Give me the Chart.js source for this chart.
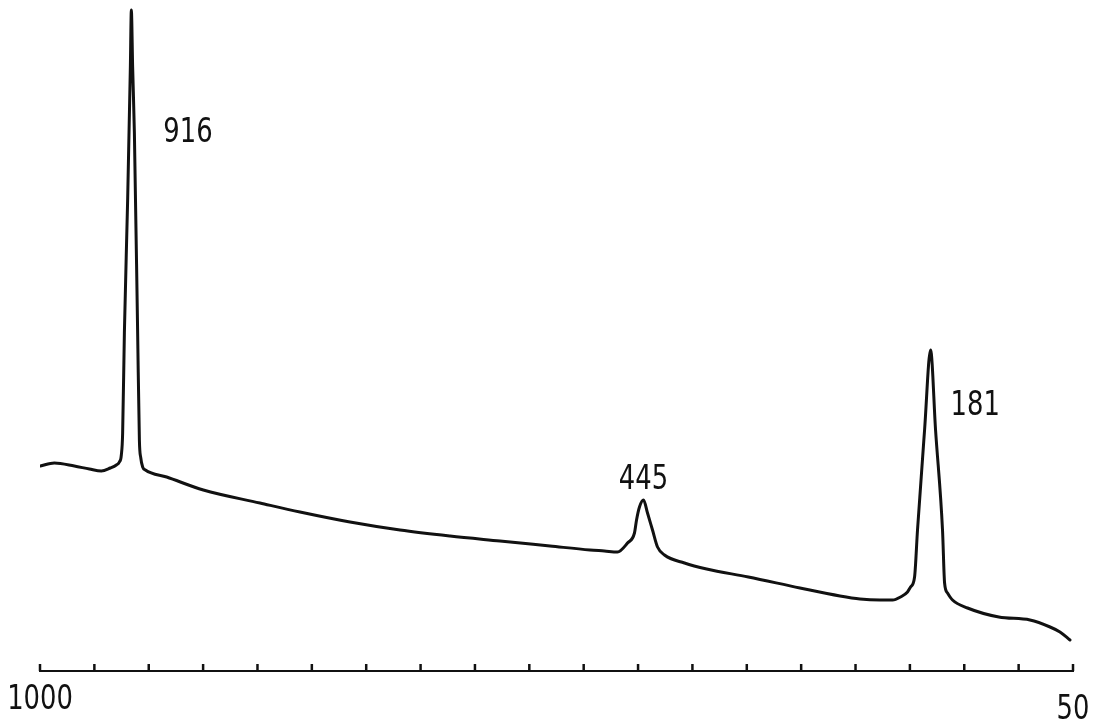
<!DOCTYPE html>
<html>
<head>
<meta charset="utf-8">
<script src="https://cdn.jsdelivr.net/npm/chart.js@4.4.0/dist/chart.umd.min.js"></script>
<style>
  html, body { margin: 0; padding: 0; background: #ffffff; }
  #wrap { width: 1103px; height: 728px; }
</style>
</head>
<body>
<div id="wrap"><canvas id="spectrum" width="1103" height="728"></canvas></div>
<script>
// Raman shift (cm^-1), from high to low as recorded
const wavenumbers = [
  999.7, 986.8, 968.4, 954.6, 943.6, 935.3, 929.8, 927.0, 925.2, 924.0,
  922.4, 919.4, 916.9, 916.0, 914.8, 913.2, 910.2, 908.6, 907.3, 905.6,
  903.1, 883.5, 849.8, 797.7, 760.9, 714.9, 668.9, 622.9, 577.0, 531.0,
  494.2, 480.9, 468.9, 459.7, 453.3, 451.4, 448.7, 445.0, 441.3, 436.7,
  432.1, 425.7, 407.3, 386.9, 348.6, 301.1, 264.3, 245.9, 227.5, 215.9,
  208.6, 202.2, 199.4, 195.7, 193.0, 186.5, 181.0, 176.4, 170.0, 168.1,
  165.4, 160.8, 147.0, 118.2, 89.6, 71.1, 62.0, 52.8
];

// Scattered intensity (arbitrary units)
const intensity = [
  205, 208, 205, 202, 200, 203, 206, 209, 216, 238,
  338, 471, 604, 661, 604, 538, 338, 231, 213, 204,
  201, 194, 181, 168, 159, 149, 141, 135, 130, 125,
  121, 120, 119, 128, 138, 151, 164, 171, 158, 141,
  124, 116, 108, 102, 94, 83, 75, 72, 71, 71,
  74, 79, 84, 94, 141, 241, 321, 241, 141, 88,
  78, 71, 63, 54, 51, 44, 39, 31
];

// Band assignments written next to the peaks
const peakLabels = ['916', '445', '181'];
const peakPositions = [916, 445, 181];
const peakHeights = [661, 171, 321];

// Scale ticks every 50 cm^-1; only the ends carry numbers
const tickValues = [1000, 950, 900, 850, 800, 750, 700, 650, 600, 550,
                    500, 450, 400, 350, 300, 250, 200, 150, 100, 50];
const endLabels = ['1000', '50'];
const endValues = [1000, 50];

const LABEL_FONT = '33px "DejaVu Sans Condensed", "Liberation Sans Narrow", sans-serif';
const TEXT_SQUEEZE = 0.87;   // narrow lettering
const INK = '#111111';

// label placement relative to each peak apex (pixels)
const labelPlacement = [
  { dx: 32, dy: 123, align: 'left' },
  { dx: 0, dy: -20, align: 'center' },
  { dx: 20, dy: 56, align: 'left' }
];
// end-number placement below the scale line (pixels)
const endPlacement = [{ dy: 29 }, { dy: 39 }];

function drawNarrowText(ctx, txt, x, y, align) {
  ctx.save();
  ctx.translate(x, y);
  ctx.scale(TEXT_SQUEEZE, 1);
  ctx.textAlign = align;
  ctx.textBaseline = 'middle';
  ctx.fillText(txt, 0, 0);
  ctx.restore();
}

const tickMarks = {
  id: 'tickMarks',
  afterDatasetsDraw(chart) {
    const xs = chart.scales.x;
    const ctx = chart.ctx;
    const y0 = chart.chartArea.bottom;
    ctx.save();
    ctx.strokeStyle = INK;
    ctx.lineWidth = 2.5;
    xs.ticks.forEach(t => {
      const px = xs.getPixelForValue(t.value);
      ctx.beginPath();
      ctx.moveTo(px, y0);
      ctx.lineTo(px, y0 - 7);
      ctx.stroke();
    });
    ctx.fillStyle = INK;
    ctx.font = LABEL_FONT;
    endLabels.forEach((txt, i) => {
      drawNarrowText(ctx, txt, xs.getPixelForValue(endValues[i]), y0 + endPlacement[i].dy, 'center');
    });
    ctx.restore();
  }
};

const peakText = {
  id: 'peakText',
  afterDatasetsDraw(chart) {
    const xs = chart.scales.x, ys = chart.scales.y;
    const ctx = chart.ctx;
    ctx.save();
    ctx.fillStyle = INK;
    ctx.font = LABEL_FONT;
    peakLabels.forEach((txt, i) => {
      const p = labelPlacement[i];
      const px = xs.getPixelForValue(peakPositions[i]);
      const py = ys.getPixelForValue(peakHeights[i]);
      drawNarrowText(ctx, txt, px + p.dx, py + p.dy, p.align);
    });
    ctx.restore();
  }
};

const points = wavenumbers.map((w, i) => ({ x: w, y: intensity[i] }));

new Chart(document.getElementById('spectrum'), {
  type: 'line',
  data: {
    datasets: [{
      data: points,
      borderColor: INK,
      borderWidth: 3,
      pointRadius: 0,
      fill: false,
      cubicInterpolationMode: 'monotone',
      borderJoinStyle: 'round',
      borderCapStyle: 'round'
    }]
  },
  options: {
    responsive: false,
    animation: false,
    events: [],
    layout: { padding: { left: 40, right: 30, top: 0, bottom: 0 } },
    plugins: { legend: { display: false }, tooltip: { enabled: false } },
    scales: {
      x: {
        type: 'linear',
        reverse: true,
        min: 50,
        max: 1000,
        afterBuildTicks(scale) {
          scale.ticks = tickValues.map(v => ({ value: v }));
        },
        afterFit(scale) { scale.height = 57; },
        grid: { display: false, drawTicks: false },
        border: { display: true, color: INK, width: 2 },
        ticks: { display: false, autoSkip: false, maxRotation: 0 }
      },
      y: {
        display: false,
        min: 0,
        max: 671
      }
    }
  },
  plugins: [tickMarks, peakText]
});
</script>
</body>
</html>
